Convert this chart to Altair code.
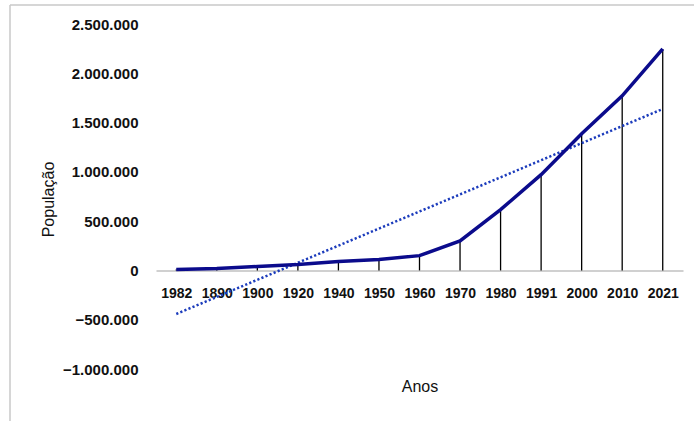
import altair as alt
import pandas as pd

years = ["1982", "1890", "1900", "1920", "1940", "1950", "1960", "1970",
         "1980", "1991", "2000", "2010", "2021"]
population = [10000, 20000, 40000, 60000, 90000, 110000, 150000, 300000,
              617000, 972000, 1387000, 1771000, 2247000]
y_ticks = [-1000000, -500000, 0, 500000, 1000000, 1500000, 2000000, 2500000]

df = pd.DataFrame({"idx": list(range(len(years))), "year": years, "pop": population})

W, H = 527, 345
ymin, ymax = -1000000, 2500000
zero_px = H * (ymax - 0) / (ymax - ymin)
offset = -(H - zero_px)

year_arr = "[" + ",".join("'" + y + "'" for y in years) + "]"
FONT = "Liberation Sans"

x_enc = alt.X(
    "idx:Q",
    scale=alt.Scale(domain=[-0.5, len(years) - 0.5], nice=False, zero=False),
    axis=alt.Axis(
        values=list(range(len(years))),
        labelExpr=year_arr + "[datum.value]",
        grid=False, ticks=False,
        domainColor="#c0c0c0", domainWidth=1.5,
        offset=offset,
        labelPadding=16, labelFontSize=14, labelFontWeight="bold",
        labelFont=FONT, labelColor="#111111",
        labelFlush=False, labelOverlap=False,
        title="Anos", titleFont=FONT, titleFontSize=16, titleFontWeight="normal",
        titleColor="#111111", titleX=W / 2, titleY=116,
        titleBaseline="middle", titleAlign="center",
    ),
)

y_enc = alt.Y(
    "pop:Q",
    scale=alt.Scale(domain=[ymin, ymax], nice=False),
    axis=alt.Axis(
        values=y_ticks,
        labelExpr="replace(replace(format(datum.value, ','), ',', '.'), ',', '.')",
        grid=False, ticks=False, domain=False,
        labelPadding=18, labelFontSize=15, labelFontWeight="bold",
        labelFont=FONT, labelColor="#111111",
        title="População", titleFont=FONT, titleFontSize=16, titleFontWeight="normal",
        titleColor="#111111", titleAngle=-90, titleX=-108, titleY=175,
        titleAlign="center", titleBaseline="middle",
    ),
)

base = alt.Chart(df)

drops = base.mark_rule(color="black", strokeWidth=1.3).encode(
    x=x_enc, y=y_enc, y2=alt.datum(0)
)
line = base.mark_line(color="#0b0b8c", strokeWidth=3.5).encode(x=x_enc, y=y_enc)
trend = base.transform_regression("idx", "pop").mark_line(
    color="#1c3cbc", strokeWidth=2.5, strokeDash=[2.2, 2.2]
).encode(x=x_enc, y=y_enc)

frame_df = pd.DataFrame({"a": [0]})
frame_left = alt.Chart(frame_df).mark_rule(color="#c8c8c8", strokeWidth=1.5).encode(
    x=alt.value(-146), y=alt.value(-19), y2=alt.value(420)
)
frame_top = alt.Chart(frame_df).mark_rule(color="#c8c8c8", strokeWidth=1.5).encode(
    x=alt.value(-146), x2=alt.value(560), y=alt.value(-19)
)

chart = alt.layer(frame_left, frame_top, drops, trend, line).properties(
    width=W, height=H,
    autosize=alt.AutoSizeParams(type="none"),
    padding={"left": 156, "top": 24, "right": 11, "bottom": 52},
    background="white",
).configure_view(stroke=None)

chart.save("out.html", embed_options={"renderer": "svg", "actions": False})
